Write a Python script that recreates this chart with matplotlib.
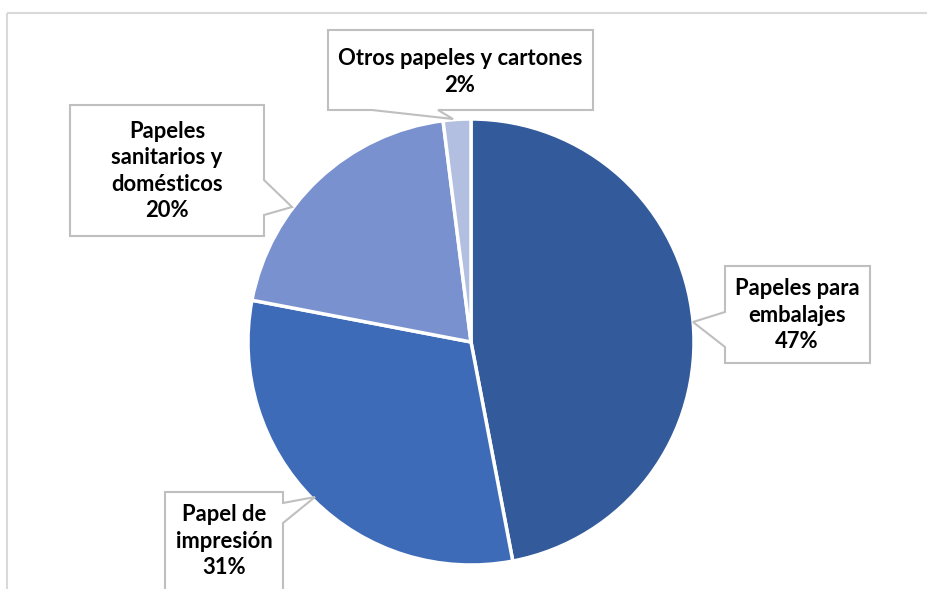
import matplotlib.pyplot as plt
from matplotlib.patches import Polygon, Rectangle

# Datos del gráfico
categorias = ["Papeles para\nembalajes", "Papel de\nimpresión",
              "Papeles\nsanitarios y\ndomésticos", "Otros papeles y cartones"]
porcentajes = [47, 31, 20, 2]
colores = ["#335A9A", "#3E6BB8", "#7A91CF", "#B2BFE1"]

W, H = 927, 589
fig = plt.figure(figsize=(W / 100, H / 100), dpi=100)
ax = fig.add_axes([0, 0, 1, 1])

# marco del gráfico (recortado a la derecha y abajo)
ax.add_patch(Rectangle((7, 13), W + 20, H + 20, fill=False,
                       edgecolor="#D9D9D9", lw=1.5))

# pie: el eje y está invertido, así que counterclock=True dibuja en sentido horario
ax.pie(porcentajes, colors=colores, startangle=-90, counterclock=True,
       center=(471, 342), radius=223, frame=True,
       wedgeprops=dict(edgecolor="white", linewidth=2.5))
ax.set_xlim(0, W)
ax.set_ylim(H, 0)
ax.set_aspect("equal")
ax.axis("off")

# cajas de etiquetas con puntero: (polígono, centro del texto)
cajas = [
    ([(725, 266), (870, 266), (870, 363), (725, 363), (725, 347), (693, 322), (725, 312)],
     (797, 315)),
    ([(165, 492), (283, 492), (283, 503), (315, 497), (283, 523), (283, 592), (165, 592)],
     (224, 541)),
    ([(70, 105), (264, 105), (264, 180), (292, 207), (264, 215), (264, 236), (70, 236)],
     (167, 171)),
    ([(328, 30), (593, 30), (593, 110), (438, 110), (453, 119), (372, 110), (328, 110)],
     (460, 72)),
]

for (poly, (tx, ty)), cat, pct in zip(cajas, categorias, porcentajes):
    ax.add_patch(Polygon(poly, closed=True, facecolor="white",
                         edgecolor="#BFBFBF", lw=1.5, zorder=3))
    ax.text(tx, ty, f"{cat}\n{pct}%", ha="center", va="center",
            fontsize=15.8, fontweight="bold", family="Lato",
            linespacing=1.3, color="black", zorder=4)

fig.savefig("out.png", dpi=100)
